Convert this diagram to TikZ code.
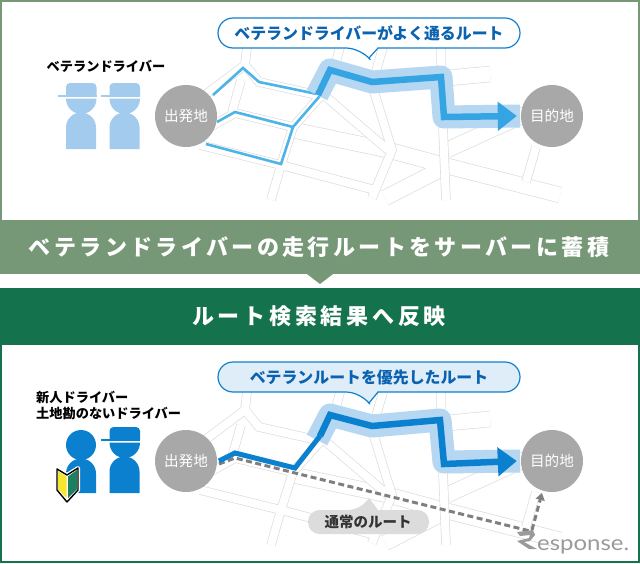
\documentclass[tikz,border=0pt]{standalone}
\usepackage{fontspec}
\setmainfont{Noto Sans CJK JP}
\newfontfamily\bandA[LetterSpace=15.5]{Noto Sans CJK JP}
\newfontfamily\bandB[LetterSpace=17]{Noto Sans CJK JP}
\newfontfamily\latinmark{Lato}
\usetikzlibrary{arrows.meta}
\definecolor{roadc}{HTML}{DDDDDD}
\definecolor{bandone}{HTML}{769877}
\definecolor{bandtwo}{HTML}{14734C}
\definecolor{pale}{HTML}{B5D7F2}
\definecolor{skyroute}{HTML}{35A4E3}
\definecolor{thinroute}{HTML}{4DB4E8}
\definecolor{deeproute}{HTML}{0A80CE}
\definecolor{lightperson}{HTML}{A3CBEE}
\definecolor{bubbleline}{HTML}{1080CC}
\definecolor{bubbletext}{HTML}{0A62B0}
\definecolor{circlegray}{HTML}{A8A8A8}
\definecolor{pillgray}{HTML}{DCDCDC}
\definecolor{dashgray}{HTML}{7F7F7F}
\definecolor{markgray}{HTML}{9A9A9A}
\definecolor{leafgreen}{HTML}{1C8060}
\definecolor{leafyellow}{HTML}{F7E62E}
\tikzset{
  roadn/.style={draw=roadc,line width=.7pt,double=white,double distance=8pt,line join=miter},
  roadw/.style={draw=roadc,line width=.7pt,double=white,double distance=15pt,line join=miter},
  place/.style={circle,fill=circlegray,minimum size=62pt,inner sep=0pt,text=white,font=\fontsize{14.6}{15}\selectfont},
  halo/.style={draw=pale,line width=23pt,line join=round,line cap=butt},
  bubble/.style={draw=bubbleline,line width=1.2pt},
  bubbletxt/.style={text=bubbletext,font=\bfseries\fontsize{15.9}{16}\selectfont,inner sep=0pt},
  blacklabel/.style={text=black,font=\bfseries\fontsize{13.2}{16}\selectfont,inner sep=0pt},
}
\newcommand{\roadmap}{%
  \draw[roadw]
    (293,130) -- (388,150) -- (447,166) -- (560,195)
    (447,78) -- (490,74)
    (447,150) -- (530,112)
    (447,166) -- (385,198);
  \draw[roadn]
    (247,47) -- (245,65) -- (259,82) -- (317,95)
    (245,65) -- (205,95)
    (241,80) -- (232,112)
    (210,127) -- (235,113) -- (293,127) -- (326,90) -- (335,66) -- (340,47)
    (200,145) -- (281,165) -- (375,190)
    (293,127) -- (281,165) -- (271,200)
    (325,96) -- (388,150)
    (383,47) -- (372,85) -- (392,150) -- (372,198)
    (441,47) -- (441,80) -- (446,200)
    (536,147) -- (526,182);
}
\newcommand{\driver}[3]{%
  \begin{scope}[shift={(#1,#2)}]
    \fill[#3] (0,13) -- (0,4) arc[start angle=180,end angle=90,radius=4pt] -- (26.5,0) arc[start angle=90,end angle=0,radius=4pt] -- (30.5,13) -- cycle;
    \fill[#3] (-8.5,12) rectangle (30.5,14);
    \fill[#3] (0,15.7) -- (30.5,15.7) arc[start angle=0,end angle=-180,radius=15.25pt] -- cycle;
    \fill[#3] (0,66) -- (0,44.5) arc[start angle=180,end angle=0,radius=15pt] -- (30,66) -- cycle;
  \end{scope}}
\begin{document}
\begin{tikzpicture}[x=1pt,y=-1pt]
\useasboundingbox (0,0) rectangle (640,563);
\fill[white] (0,0) rectangle (640,563);
% panels
\fill[bandone] (0,0) rectangle (640,220);
\fill[white] (2,2) rectangle (638,220);
\fill[bandtwo] (0,344) rectangle (640,563);
\fill[white] (2,345) rectangle (638,561);
% bands
\fill[bandone] (0,220) rectangle (640,274);
\fill[bandone] (307,274) -- (333,274) -- (320,284) -- cycle;
\fill[bandtwo] (0,288) rectangle (640,344);
\node[text=white,inner sep=0pt,font=\bandA\bfseries\fontsize{22}{24}\selectfont] (bandtop) at (319,247) {ベテランドライバーの走行ルートをサーバーに蓄積};
\node[text=white,inner sep=0pt,font=\bandB\bfseries\fontsize{22}{24}\selectfont] (bandlow) at (319,316) {ルート検索結果へ反映};
% top map
\roadmap
\draw[thinroute,line width=2.6pt,line join=miter] (213,95) -- (243,68) -- (259,82) -- (317,94);
\draw[thinroute,line width=2.6pt,line join=miter] (217,122) -- (235,112) -- (293,127) -- (325,90);
\draw[thinroute,line width=2.6pt,line join=miter] (206,144) -- (281,164) -- (293,127);
\draw[halo] (317,95) -- (330,70) -- (372,82) -- (441,77) -- (444,117) -- (520,116);
\coordinate (toproute) at (318,95);
\node[place] (startA) at (186,116) {出発地};
\node[place] (goalA) at (552,116) {目的地};
\draw[skyroute,line width=6.5pt,line join=miter,-{Triangle[length=19pt,width=28pt]}] (toproute) -- (330,70) -- (372,82) -- (441,77) -- (444,117) -- ([xshift=-4pt]goalA.west);
% top bubble
\draw[bubble,fill=white] (369,58) -- (378,48) [rounded corners=15pt] -- (520,48) -- (520,18) -- (218,18) -- (218,48) -- (361,48) [sharp corners] -- cycle;
\node[bubbletxt] (bubbleA) at (369,33) {ベテランドライバーがよく通るルート};
% top people
\node[blacklabel] (vets) at (106,66) {ベテランドライバー};
\driver{66}{83}{lightperson}
\driver{109.5}{83}{lightperson}
% bottom map
\begin{scope}[shift={(0,345)}]
\roadmap
\end{scope}
\draw[halo] (317,440) -- (330,415) -- (372,426) -- (440,420) -- (444,462) -- (520,461);
\node[place] (startB) at (186,461) {出発地};
\node[place] (goalB) at (552,461) {目的地};
\coordinate (dashA) at (219,464);
\coordinate (dashB) at (532,530);
\coordinate (dashTip) at (542,493);
\draw[dashgray,line width=3pt,dash pattern=on 6pt off 3.5pt] (dashA) -- (235,458) -- (295,473) -- (530,531);
\draw[dashgray,line width=3pt,dash pattern=on 6pt off 3.5pt,-{Triangle[length=7pt,width=9pt]}] (dashB) -- (dashTip);
\coordinate (routeB) at (219,461);
\draw[deeproute,line width=5pt,line join=miter] (routeB) -- (235,453) -- (295,468) -- (320,436);
\draw[deeproute,line width=6.5pt,line join=miter,-{Triangle[length=19pt,width=28pt]}] (320,436) -- (330,415) -- (372,426) -- (440,420) -- (444,464) -- ([xshift=-4pt]goalB.west);
% bottom bubble
\draw[bubble,fill=bubbleline!14!white] (369,403) -- (378,392) [rounded corners=15pt] -- (520,392) -- (520,362) -- (218,362) -- (218,392) -- (361,392) [sharp corners] -- cycle;
\node[bubbletxt] (bubbleB) at (369,377) {ベテランルートを優先したルート};
% usual route pill
\fill[pillgray] (369,498) -- (378,510) [rounded corners=11.5pt] -- (429,510) -- (429,534) -- (308,534) -- (308,510) -- (360,510) [sharp corners] -- cycle;
\node[inner sep=0pt,text=black!80,font=\bfseries\fontsize{14.5}{15}\selectfont] (usual) at (368,522) {通常のルート};
% bottom people
\node[blacklabel,align=left,anchor=north west] (novice) at (36,390.5) {新人ドライバー\\土地勘のないドライバー};
\fill[deeproute] (81,445) circle[radius=15pt];
\fill[deeproute] (66,493) -- (66,473.5) arc[start angle=180,end angle=0,radius=15pt] -- (96,493) -- cycle;
\driver{109.5}{427}{deeproute}
% beginner mark
\draw[white,line width=4pt,line join=round,fill=white] (57,469) -- (67,475) -- (78,468) -- (78,490) -- (67,502) -- (57,490) -- cycle;
\draw[black,line width=1.4pt,line join=round,fill=white] (57,469) -- (67,475) -- (78,468) -- (78,490) -- (67,502) -- (57,490) -- cycle;
\fill[leafyellow] (58,471) -- (66.5,476.5) -- (66.5,498) -- (58,489) -- cycle;
\fill[leafgreen] (77,470) -- (68,476.5) -- (68,498) -- (77,489) -- cycle;
% watermark
\node[text=markgray,inner sep=0pt,anchor=base west,xscale=1.14,font=\latinmark\fontsize{21}{21}\selectfont] (mark) at (537,550) {esponse.};
\fill[markgray] (517,532) -- (533,530) -- (535,535) -- (530,541) -- (524,542) -- (537,549) -- (529,549) -- (517,541) -- (529,538) -- (530,535) -- (520,536) -- cycle;
\end{tikzpicture}
\end{document}
